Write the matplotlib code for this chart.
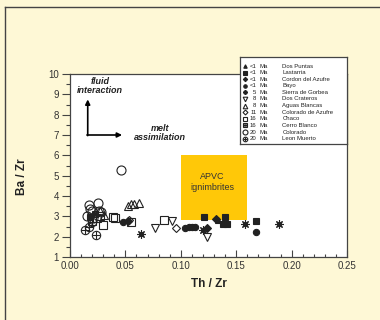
import matplotlib
matplotlib.use("Agg")
import matplotlib.pyplot as plt
from matplotlib.patches import Rectangle
from matplotlib.lines import Line2D

plt.rcParams['font.family'] = ['Liberation Sans', 'DejaVu Sans']

# Legend entries: age, locality, marker, filled
ages = ["<1", "<1", "<1", "<1", "5", "8", "8", "11", "16", "16", "20", "20"]
names = ["Dos Puntas", "Lastarria", "Cordon del Azufre", "Bayo",
         "Sierra de Gorbea", "Dos Crateros", "Aguas Blancas",
         "Colorado de Azufre", "Chaco", "Cerro Blanco", "Colorado",
         "Leon Muerto"]

# Th/Zr and Ba/Zr values per locality
dos_puntas_x = [0.134]
dos_puntas_y = [2.82]
lastarria_x = [0.121, 0.140, 0.138, 0.142, 0.168]
lastarria_y = [2.95, 2.95, 2.60, 2.60, 2.75]
cordon_x = [0.132, 0.124, 0.052]
cordon_y = [2.88, 2.42, 2.78]
bayo_x = [0.048, 0.104, 0.107, 0.110, 0.113, 0.168]
bayo_y = [2.72, 2.45, 2.50, 2.50, 2.48, 2.25]
gorbea_x = [0.064, 0.120, 0.158, 0.189]
gorbea_y = [2.13, 2.35, 2.60, 2.62]
crateros_x = [0.077, 0.092, 0.124]
crateros_y = [2.42, 2.78, 2.00]
aguas_x = [0.052, 0.055, 0.058, 0.062, 0.027, 0.031]
aguas_y = [3.50, 3.60, 3.62, 3.68, 3.25, 3.05]
col_azufre_x = [0.096, 0.053]
col_azufre_y = [2.42, 2.80]
chaco_x = [0.039, 0.041, 0.030, 0.055, 0.085, 0.020, 0.024, 0.027]
chaco_y = [2.98, 2.90, 2.55, 2.72, 2.82, 2.75, 2.90, 3.00]
cerro_x = [0.018, 0.023]
cerro_y = [2.95, 3.10]
colorado_x = [0.046, 0.017, 0.025, 0.026, 0.020, 0.015, 0.021, 0.028, 0.018]
colorado_y = [5.30, 3.58, 3.65, 3.25, 3.25, 3.00, 2.90, 3.20, 3.35]
leon_x = [0.0135, 0.0235, 0.020, 0.017]
leon_y = [2.33, 2.08, 2.70, 2.50]

series = [
    (dos_puntas_x, dos_puntas_y, '^', True, 4.5),
    (lastarria_x, lastarria_y, 's', True, 4.5),
    (cordon_x, cordon_y, 'D', True, 4),
    (bayo_x, bayo_y, 'o', True, 4.5),
    (gorbea_x, gorbea_y, (8, 2, 0), False, 6),
    (crateros_x, crateros_y, 'v', False, 6),
    (aguas_x, aguas_y, '^', False, 6),
    (col_azufre_x, col_azufre_y, 'D', False, 4.5),
    (chaco_x, chaco_y, 's', False, 6),
    (cerro_x, cerro_y, 's', False, 5),
    (colorado_x, colorado_y, 'o', False, 6.5),
    (leon_x, leon_y, 'o', False, 6),
]

bg = '#fef8d6'
ink = '#222222'

fig = plt.figure(figsize=(3.8, 3.2), dpi=100, facecolor=bg)
fig.add_artist(Line2D([5 / 380, 5 / 380], [0, 1 - 7 / 320], color='#444444', lw=1))
fig.add_artist(Line2D([5 / 380, 1], [1 - 7 / 320, 1 - 7 / 320], color='#444444', lw=1))

ax = fig.add_axes([70 / 380, 1 - 257 / 320, 277 / 380, 183 / 320])
ax.set_facecolor('white')
ax.set_xlim(0, 0.25)
ax.set_ylim(1, 10)

# APVC field
ax.add_patch(Rectangle((0.10, 2.8), 0.06, 3.2, color='#ffc808', zorder=1, lw=0))
ax.text(0.1285, 4.7, "APVC\nignimbrites", ha='center', va='center',
        fontsize=6.5, color='#333333', linespacing=1.3, zorder=2)


def draw_points(a, xs, ys, mk, filled, ms, idx):
    fc = ink if filled else 'none'
    a.plot(xs, ys, linestyle='none', marker=mk, ms=ms, mfc=fc, mec=ink,
           mew=0.8, zorder=3)
    if idx == 9:  # Cerro Blanco: square with vertical bars
        a.plot(xs, ys, linestyle='none', marker='$|||$', ms=ms * 0.6,
               color=ink, zorder=3)
    if idx == 11:  # Leon Muerto: crossed circle
        a.plot(xs, ys, linestyle='none', marker='+', ms=ms, mew=0.8,
               color=ink, zorder=3)
    if idx == 4:
        a.plot(xs, ys, linestyle='none', marker='o', ms=ms * 0.45,
               mfc=ink, mec=ink, zorder=3)


for i, (xs, ys, mk, filled, ms) in enumerate(series):
    draw_points(ax, xs, ys, mk, filled, ms, i)

# Arrows
arrow = dict(arrowstyle='-|>', color='black', lw=1.2, mutation_scale=7,
             shrinkA=0, shrinkB=0)
ax.annotate('', xy=(0.016, 8.75), xytext=(0.016, 6.97), arrowprops=arrow)
ax.annotate('', xy=(0.047, 7.0), xytext=(0.0153, 7.0), arrowprops=arrow)
ax.text(0.027, 9.4, "fluid\ninteraction", ha='center', va='center',
        fontsize=6.5, fontweight='bold', style='italic', color=ink,
        linespacing=1.0)
ax.text(0.081, 7.08, "melt\nassimilation", ha='center', va='center',
        fontsize=6.5, fontweight='bold', style='italic', color=ink,
        linespacing=1.0)

ax.set_xticks([0, 0.05, 0.10, 0.15, 0.20, 0.25])
ax.set_xticklabels(["0.00", "0.05", "0.10", "0.15", "0.20", "0.25"])
ax.set_xticks([i * 0.01 for i in range(26)], minor=True)
ax.set_yticks(range(1, 11))
ax.set_yticks([i + 0.5 for i in range(1, 10)], minor=True)
ax.tick_params(axis='x', which='major', direction='in', length=5, width=0.8,
               pad=3, labelsize=7, labelcolor='#333333', color='#444444')
ax.tick_params(axis='x', which='minor', direction='in', length=2.5, width=0.8,
               color='#444444')
ax.tick_params(axis='y', which='major', direction='out', length=6, width=0.8,
               pad=2, labelsize=7, labelcolor='#333333', color='#444444')
ax.tick_params(axis='y', which='minor', direction='out', length=3, width=0.8,
               color='#444444')
for s in ax.spines.values():
    s.set_color('#444444')
    s.set_linewidth(0.9)

ax.set_xlabel("Th / Zr", fontsize=8.5, fontweight='bold', color=ink)
ax.xaxis.set_label_coords(0.5, -0.115)
ax.set_ylabel("Ba / Zr", fontsize=8.5, fontweight='bold', color=ink)
ax.yaxis.set_label_coords(-0.152, 0.437)

# Legend box
lg = fig.add_axes([240 / 380, 1 - 144 / 320, 107 / 380, 87 / 320])
lg.set_xlim(0, 107)
lg.set_ylim(87, 0)
lg.set_xticks([])
lg.set_yticks([])
lg.set_facecolor('white')
for s in lg.spines.values():
    s.set_color('#444444')
    s.set_linewidth(0.9)
for i, (xs, ys, mk, filled, ms) in enumerate(series):
    row = 9 + 6.6 * i
    draw_points(lg, [5], [row], mk, filled, ms * 0.55, i)
    lg.text(16.5, row, ages[i], ha='right', va='center', fontsize=4.3, color=ink)
    lg.text(19, row, "Ma", ha='left', va='center', fontsize=4.3, color=ink)
    lg.text(42.5, row, names[i], ha='left', va='center', fontsize=4.3, color=ink)

fig.savefig("out.png", dpi=100, facecolor=bg)
